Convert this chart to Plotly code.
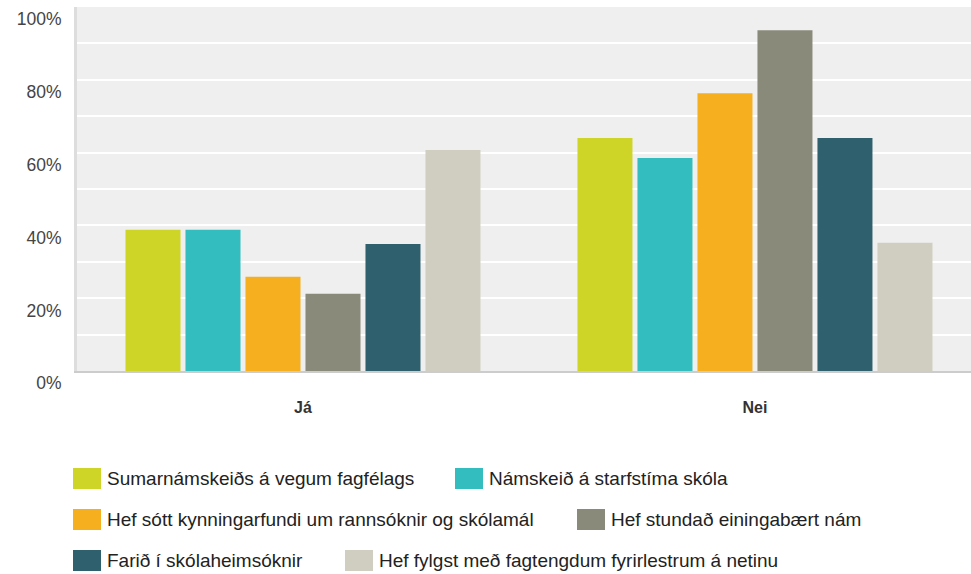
import plotly.graph_objects as go

categories = ["Já", "Nei"]
series_names = [
    "Sumarnámskeiðs á vegum fagfélags",
    "Námskeið á starfstíma skóla",
    "Hef sótt kynningarfundi um rannsóknir og skólamál",
    "Hef stundað einingabært nám",
    "Farið í skólaheimsóknir",
    "Hef fylgst með fagtengdum fyrirlestrum á netinu",
]
ja_values = [38.8, 38.8, 25.9, 21.2, 34.9, 60.7]
nei_values = [64.0, 58.5, 76.3, 93.6, 64.0, 35.2]
colors = ["#CFD527", "#33BDBF", "#F6AF1E", "#8A8A7A", "#2E606E", "#D0CEC0"]
y_ticks = [0, 20, 40, 60, 80, 100]
y_ticktext = ["0%", "20%", "40%", "60%", "80%", "100%"]

W, H = 971, 574
ML, MR, MT, MB = 77, 0, 7, 203
plot_w = W - ML - MR
plot_h = H - MT - MB

fig = go.Figure()
for i, name in enumerate(series_names):
    fig.add_trace(go.Bar(
        x=categories,
        y=[ja_values[i], nei_values[i]],
        name=name,
        marker=dict(color=colors[i], line=dict(width=0)),
        showlegend=False,
        hovertemplate="%{x}: %{y:.1f}%<extra>" + name + "</extra>",
    ))

# hand-made legend, laid out in rows like the original
rows = [[0, 1], [2, 3], [4, 5]]
col2_px = [455, 577, 345]
row_y_px = [478.5, 519.5, 560.5]

def px_x(px):
    return (px - ML) / plot_w

def px_y(py):
    return (H - MB - py) / plot_h

shapes = []
annotations = []
for r, items in enumerate(rows):
    for c, idx in enumerate(items):
        x0 = 73 if c == 0 else col2_px[r]
        yc = row_y_px[r]
        shapes.append(dict(
            type="rect", xref="paper", yref="paper",
            x0=px_x(x0), x1=px_x(x0 + 28),
            y0=px_y(yc + 10.5), y1=px_y(yc - 10.5),
            fillcolor=colors[idx], line=dict(width=0), layer="above",
        ))
        annotations.append(dict(
            text=series_names[idx], xref="paper", yref="paper",
            x=px_x(x0 + 32), y=px_y(yc), xanchor="left", yanchor="middle",
            showarrow=False, font=dict(size=19, color="#222222"),
        ))

fig.update_layout(
    width=W, height=H,
    margin=dict(l=ML, r=MR, t=MT, b=MB),
    paper_bgcolor="white",
    plot_bgcolor="#EFEFEF",
    font=dict(family="Arial, Liberation Sans, sans-serif", size=16, color="#333333"),
    barmode="group",
    bargap=0.2035,
    bargroupgap=0.083,
    showlegend=False,
    shapes=shapes,
    annotations=annotations,
)

fig.update_xaxes(
    range=[-0.5, 1.478],
    showgrid=False,
    showline=True, linecolor="#CCCCCC", linewidth=2,
    ticks="", ticklabelstandoff=21,
    tickfont=dict(size=16, color="#333333", weight="bold"),
)
fig.update_yaxes(
    range=[0, 100],
    tickmode="array",
    tickvals=y_ticks,
    ticktext=y_ticktext,
    ticks="",
    ticklabelposition="outside bottom",
    ticklabelstandoff=9,
    tickfont=dict(size=17.5, color="#444444"),
    showgrid=True, gridcolor="white", gridwidth=2,
    minor=dict(dtick=10, showgrid=True, gridcolor="white", gridwidth=2),
    zeroline=False,
    showline=True, linecolor="#DDDDDD", linewidth=3,
)

fig.write_html(
    "out.html",
    config={"displayModeBar": False},
    post_script="document.body.style.margin='0';",
)
